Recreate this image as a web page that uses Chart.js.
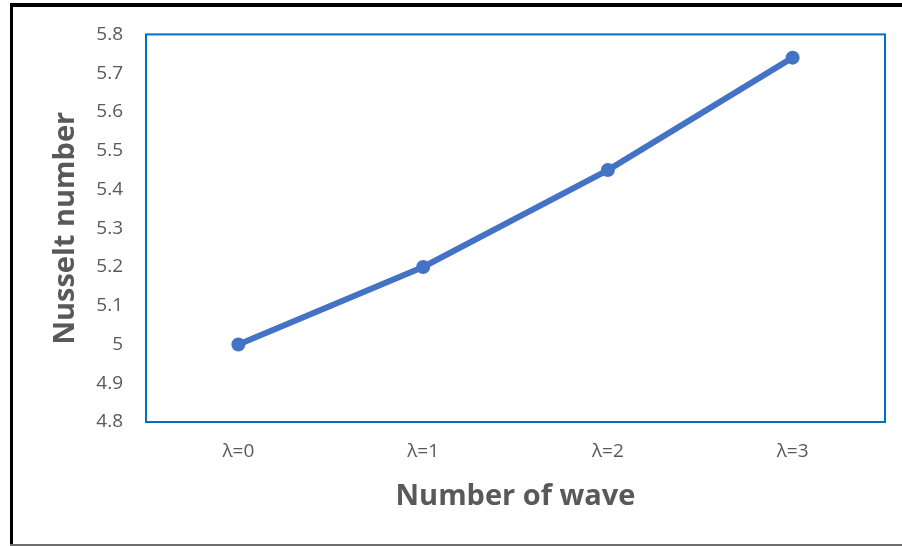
<!DOCTYPE html>
<html>
<head>
<meta charset="utf-8">
<script src="https://cdn.jsdelivr.net/npm/chart.js@4/dist/chart.umd.min.js"></script>
<style>
  html, body { margin: 0; padding: 0; background: #ffffff; }
  canvas { display: block; }
</style>
</head>
<body>
<canvas id="chart" width="902" height="546"></canvas>
<script>
// Nusselt number against the number of waves
const categories = ['λ=0', 'λ=1', 'λ=2', 'λ=3'];
const nusselt = [5.0, 5.2, 5.45, 5.74];
const yTicks = [4.8, 4.9, 5.0, 5.1, 5.2, 5.3, 5.4, 5.5, 5.6, 5.7, 5.8];

const textGrey = '#595959';
const lineBlue = '#4472C4';
const frameBlue = '#0070C0';

// Outer frame of the picture and the blue box round the plot area
const framePlugin = {
  id: 'frames',
  beforeDraw(chart) {
    const ctx = chart.ctx;
    ctx.save();
    ctx.fillStyle = '#ffffff';
    ctx.fillRect(0, 0, chart.width, chart.height);
    ctx.fillStyle = '#000000';
    ctx.fillRect(10, 3, chart.width - 10, 4);   // top edge
    ctx.fillRect(10, 3, 3, chart.height - 3);   // left edge
    ctx.fillStyle = '#6e6e6e';
    ctx.fillRect(10, chart.height - 2, chart.width - 10, 2); // bottom edge
    ctx.restore();
  },
  beforeDatasetsDraw(chart) {
    const a = chart.chartArea;
    const ctx = chart.ctx;
    ctx.save();
    ctx.strokeStyle = frameBlue;
    ctx.lineWidth = 2;
    ctx.strokeRect(a.left, a.top, a.right - a.left, a.bottom - a.top);
    ctx.restore();
  }
};

new Chart(document.getElementById('chart'), {
  type: 'line',
  data: {
    labels: categories,
    datasets: [{
      label: 'Nusselt number',
      data: nusselt,
      borderColor: lineBlue,
      backgroundColor: lineBlue,
      borderWidth: 6,
      pointRadius: 7,
      pointBorderWidth: 0,
      pointBackgroundColor: lineBlue,
      tension: 0,
      clip: false
    }]
  },
  options: {
    responsive: false,
    animation: false,
    events: [],
    layout: { padding: { left: 0, top: 32, right: 17, bottom: 0 } },
    plugins: {
      legend: { display: false },
      tooltip: { enabled: false }
    },
    scales: {
      x: {
        type: 'category',
        offset: true,
        grid: { display: false, drawTicks: false },
        border: { display: false },
        ticks: {
          color: textGrey,
          font: { family: 'Open Sans', size: 19 },
          padding: 18,
          maxRotation: 0
        },
        title: {
          display: true,
          text: 'Number of wave',
          color: textGrey,
          font: { family: 'Open Sans', size: 29, weight: 'bold', lineHeight: 1 },
          padding: { top: 0, bottom: 35 }
        },
        afterFit(scale) { scale.height = 124; }
      },
      y: {
        min: 4.8,
        max: 5.8,
        grid: { display: false, drawTicks: false },
        border: { display: false },
        afterBuildTicks(scale) { scale.ticks = yTicks.map(v => ({ value: v })); },
        ticks: {
          color: textGrey,
          font: { family: 'Open Sans', size: 19 },
          padding: 23,
          callback: v => String(Number(v.toFixed(1)))
        },
        title: {
          display: true,
          text: 'Nusselt number',
          color: textGrey,
          font: { family: 'Open Sans', size: 29, weight: 'bold', lineHeight: 1 },
          padding: { top: 51, bottom: 0 }
        },
        afterFit(scale) { scale.width = 146; }
      }
    }
  },
  plugins: [framePlugin]
});
</script>
</body>
</html>
